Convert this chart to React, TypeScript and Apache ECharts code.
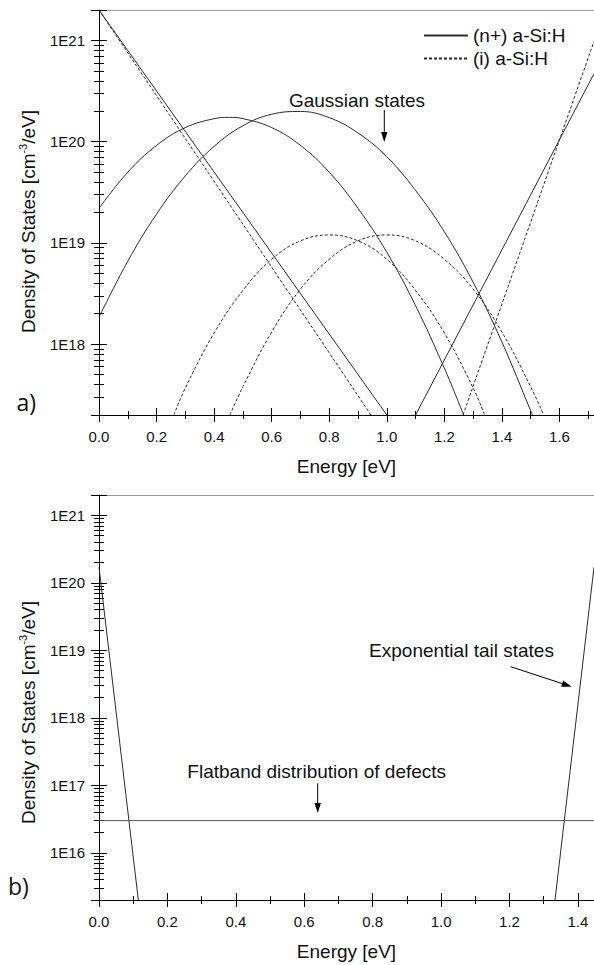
import React, { useEffect, useRef } from "react";
import * as echarts from "echarts";

// ---------- data ----------
// Panel a) : x = Energy [eV], y = Density of States [cm^-3/eV]
const nValenceTail: [number, number][] = [[0, 2e21], [1.0, 2e17]];
const iValenceTail: [number, number][] = [[0, 2e21], [0.945, 2e17]];
const nConductionTail: [number, number][] = [[1.1, 2e17], [1.72, 4.7e20]];
const iConductionTail: [number, number][] = [[1.265, 2e17], [1.72, 9.8e20]];
const nGaussLow: [number, number][] = [
  [0, 2.2e19], [0.1, 5.0e19], [0.2, 9.2e19], [0.3, 1.38e20], [0.4, 1.69e20],
  [0.45, 1.74e20], [0.5, 1.69e20], [0.6, 1.38e20], [0.7, 9.2e19], [0.8, 5.0e19],
  [0.9, 2.2e19], [1.0, 8.1e18], [1.1, 2.4e18], [1.2, 5.8e17], [1.267, 2e17],
];
const nGaussHigh: [number, number][] = [
  [0, 1.85e18], [0.1, 6.6e18], [0.2, 1.93e19], [0.3, 4.6e19], [0.4, 9.0e19],
  [0.5, 1.44e20], [0.6, 1.87e20], [0.7, 1.99e20], [0.8, 1.73e20], [0.9, 1.22e20],
  [1.0, 7.1e19], [1.1, 3.3e19], [1.2, 1.29e19], [1.3, 4.1e18], [1.4, 1.05e18],
  [1.5, 2.2e17], [1.506, 2e17],
];
const iGaussLow: [number, number][] = [
  [0.26, 2e17], [0.3, 3.7e17], [0.4, 1.29e18], [0.5, 3.4e18], [0.6, 6.9e18],
  [0.7, 1.05e19], [0.8, 1.2e19], [0.9, 1.05e19], [1.0, 6.9e18], [1.1, 3.4e18],
  [1.2, 1.29e18], [1.3, 3.7e17], [1.34, 2e17],
];
const iGaussHigh: [number, number][] = [
  [0.455, 2e17], [0.5, 3.8e17], [0.6, 1.32e18], [0.7, 3.5e18], [0.8, 6.9e18],
  [0.9, 1.05e19], [1.0, 1.2e19], [1.1, 1.05e19], [1.2, 6.9e18], [1.3, 3.5e18],
  [1.4, 1.32e18], [1.5, 3.8e17], [1.545, 2e17],
];

// Panel b)
const bValenceTail: [number, number][] = [[0, 1.7e20], [0.115, 2e15]];
const bConductionTail: [number, number][] = [[1.333, 2e15], [1.447, 1.7e20]];
const bFlatband: [number, number][] = [[0, 3e16], [1.447, 3e16]];

// axis ranges
const topXRange = [0, 1.72];
const topYRange = [2e17, 2e21];
const botXRange = [0, 1.447];
const botYRange = [2e15, 2e21];

const legendNames = ["(n+) a-Si:H", "(i) a-Si:H"];

// ---------- styling ----------
const FONT = "'Liberation Sans', Arial, sans-serif";
const TEXT = "#111111";
const CURVE = "#2b2b2b";
const DASH = [3, 2];

const powerLabel = (v: number) => {
  const l = Math.log10(v);
  if (Math.abs(l - Math.round(l)) < 1e-6) return "1E" + Math.round(l);
  return "";
};

function xMain(gridIndex: number, range: number[]) {
  return {
    type: "value",
    gridIndex,
    position: "bottom",
    min: range[0],
    max: range[1],
    interval: 0.2,
    name: "Energy [eV]",
    nameLocation: "middle",
    nameGap: 42,
    nameTextStyle: { fontFamily: FONT, fontSize: 19, color: TEXT },
    axisLine: { show: true, onZero: false, lineStyle: { color: "#000", width: 1 } },
    axisTick: { show: true, inside: false, length: 7, lineStyle: { color: "#000", width: 1 } },
    minorTick: { show: true, splitNumber: 2, length: 4, lineStyle: { color: "#000", width: 1 } },
    axisLabel: {
      margin: 14,
      fontFamily: FONT,
      fontSize: 15,
      color: TEXT,
      showMaxLabel: false,
      formatter: (v: number) => v.toFixed(1),
    },
    splitLine: { show: false },
    minorSplitLine: { show: false },
  };
}

function xInside(gridIndex: number, range: number[]) {
  return {
    type: "value",
    gridIndex,
    position: "bottom",
    min: range[0],
    max: range[1],
    interval: 0.2,
    axisLine: { show: false, onZero: false },
    axisTick: { show: true, inside: true, length: 7, lineStyle: { color: "#000", width: 1 } },
    minorTick: { show: true, splitNumber: 2, length: 4, lineStyle: { color: "#000", width: 1 } },
    axisLabel: { show: false },
    splitLine: { show: false },
  };
}

function xBorder(gridIndex: number, range: number[]) {
  return {
    type: "value",
    gridIndex,
    position: "top",
    min: range[0],
    max: range[1],
    axisLine: { show: true, onZero: false, lineStyle: { color: "#9a9a9a", width: 1 } },
    axisTick: { show: false },
    minorTick: { show: false },
    axisLabel: { show: false },
    splitLine: { show: false },
  };
}

function yMain(gridIndex: number, range: number[], padRight: number) {
  return {
    type: "log",
    logBase: 10,
    gridIndex,
    position: "left",
    min: range[0],
    max: range[1],
    name: "Density of States [cm{sup|-3}/eV]",
    nameLocation: "middle",
    nameRotate: 90,
    nameGap: 60,
    nameTextStyle: {
      fontFamily: FONT,
      fontSize: 19,
      color: TEXT,
      lineHeight: 22,
      padding: [0, padRight, 0, 0],
      rich: {
        sup: { fontFamily: FONT, fontSize: 11, color: TEXT, lineHeight: 12, verticalAlign: "top" },
      },
    },
    axisLine: { show: true, onZero: false, lineStyle: { color: "#000", width: 1 } },
    axisTick: { show: true, inside: false, length: 8, lineStyle: { color: "#000", width: 1 } },
    minorTick: { show: true, splitNumber: 9, length: 5, lineStyle: { color: "#000", width: 1 } },
    axisLabel: {
      margin: 14,
      fontFamily: FONT,
      fontSize: 15,
      color: TEXT,
      showMinLabel: false,
      showMaxLabel: false,
      formatter: powerLabel,
    },
    splitLine: { show: false },
    minorSplitLine: { show: false },
  };
}

function yInside(gridIndex: number, range: number[]) {
  return {
    type: "log",
    logBase: 10,
    gridIndex,
    position: "left",
    min: range[0],
    max: range[1],
    axisLine: { show: false, onZero: false },
    axisTick: { show: true, inside: true, length: 8, lineStyle: { color: "#000", width: 1 } },
    minorTick: { show: true, splitNumber: 9, length: 5, lineStyle: { color: "#000", width: 1 } },
    axisLabel: { show: false },
    splitLine: { show: false },
  };
}

function curve(
  name: string,
  data: [number, number][],
  gridAxis: number,
  dashed: boolean,
  smooth: number | boolean = false,
  color: string = CURVE
) {
  return {
    type: "line",
    name,
    data,
    xAxisIndex: gridAxis * 3,
    yAxisIndex: gridAxis * 2,
    symbol: "none",
    showSymbol: false,
    smooth,
    clip: true,
    silent: true,
    lineStyle: { color, width: 1, type: dashed ? DASH : "solid" },
    itemStyle: { color },
    emphasis: { disabled: true },
  };
}

function arrow(x1: number, y1: number, x2: number, y2: number) {
  const dx = x2 - x1;
  const dy = y2 - y1;
  const len = Math.sqrt(dx * dx + dy * dy);
  const ux = dx / len;
  const uy = dy / len;
  const hl = 10;
  const hw = 3.2;
  const bx = x2 - ux * hl;
  const by = y2 - uy * hl;
  return [
    { type: "line", shape: { x1, y1, x2: bx, y2: by }, style: { stroke: "#000", lineWidth: 1 } },
    {
      type: "polygon",
      shape: {
        points: [
          [x2, y2],
          [bx - uy * hw, by + ux * hw],
          [bx + uy * hw, by - ux * hw],
        ],
      },
      style: { fill: "#000" },
    },
  ];
}

function label(text: string, x: number, y: number, size = 19, family = FONT, align = "center") {
  return {
    type: "text",
    x,
    y,
    style: { text, fontFamily: family, fontSize: size, fill: TEXT, align, verticalAlign: "middle" },
  };
}

const option = {
  animation: false,
  backgroundColor: "#ffffff",
  grid: [
    { left: 99, top: 10, width: 495.5, height: 405, containLabel: false },
    { left: 99, top: 495, width: 495, height: 405, containLabel: false },
  ],
  legend: {
    show: true,
    orient: "vertical",
    left: 418,
    top: 21,
    itemWidth: 44,
    itemHeight: 12,
    itemGap: 4,
    selectedMode: false,
    data: legendNames,
    itemStyle: { opacity: 0 },
    textStyle: { fontFamily: FONT, fontSize: 19, color: TEXT, lineHeight: 18 },
  },
  xAxis: [
    xMain(0, topXRange), xInside(0, topXRange), xBorder(0, topXRange),
    xMain(1, botXRange), xInside(1, botXRange), xBorder(1, botXRange),
  ],
  yAxis: [
    yMain(0, topYRange, 18), yInside(0, topYRange),
    yMain(1, botYRange, 30), yInside(1, botYRange),
  ],
  series: [
    curve(legendNames[0], nValenceTail, 0, false),
    curve(legendNames[0], nConductionTail, 0, false),
    curve(legendNames[0], nGaussLow, 0, false, 0.4),
    curve(legendNames[0], nGaussHigh, 0, false, 0.4),
    curve(legendNames[1], iValenceTail, 0, true),
    curve(legendNames[1], iConductionTail, 0, true),
    curve(legendNames[1], iGaussLow, 0, true, 0.4),
    curve(legendNames[1], iGaussHigh, 0, true, 0.4),
    curve("valence tail", bValenceTail, 1, false),
    curve("conduction tail", bConductionTail, 1, false),
    curve("flatband defects", bFlatband, 1, false, false, "#555555"),
  ],
  graphic: [
    label("a)", 16.5, 402, 23, "'Open Sans', sans-serif", "left"),
    label("b)", 8, 886, 23, "'Open Sans', sans-serif", "left"),
    label("Gaussian states", 357, 100),
    ...arrow(384.3, 110, 384.3, 142),
    label("Exponential tail states", 461.5, 650),
    ...arrow(510.7, 666.7, 571.7, 686.7),
    label("Flatband distribution of defects", 316.7, 771),
    ...arrow(317.7, 783.3, 317.7, 813),
  ],
};

export default function App() {
  const ref = useRef<HTMLDivElement>(null);
  useEffect(() => {
    if (!ref.current) return;
    const chart = echarts.init(ref.current, null, { renderer: "svg" });
    chart.setOption(option as any);
    return () => chart.dispose();
  }, []);
  return (
    <div
      ref={ref}
      style={{ position: "absolute", left: 0, top: 0, width: 594, height: 965, background: "#fff" }}
    />
  );
}
